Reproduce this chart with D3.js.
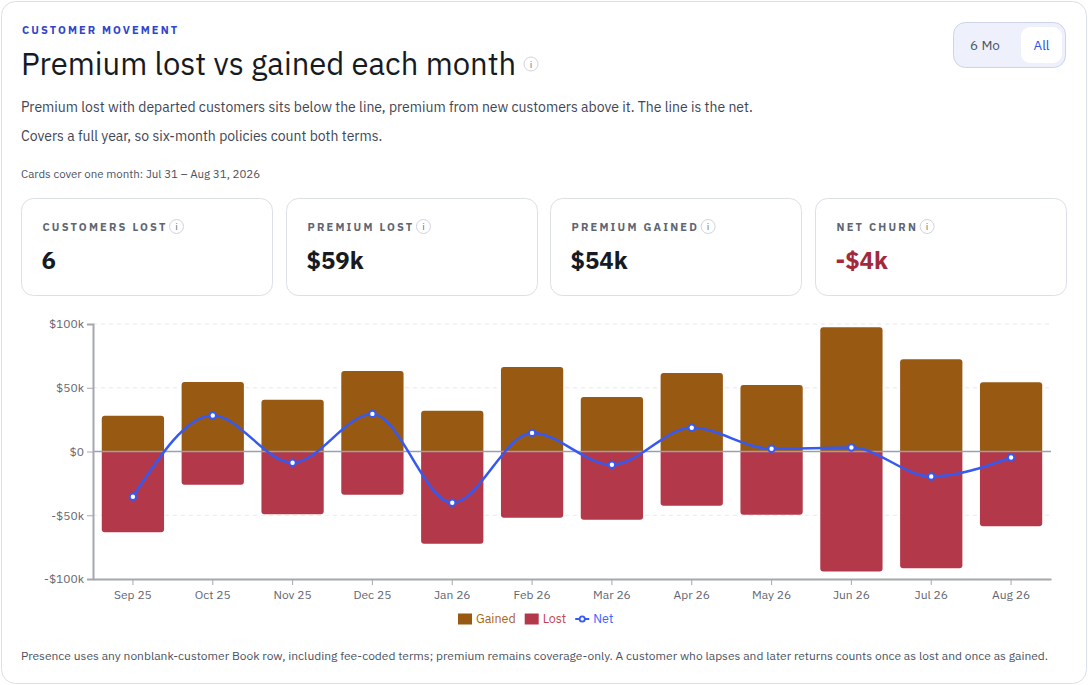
<!DOCTYPE html>
<html>
<head>
<meta charset="utf-8">
<script src="https://cdn.jsdelivr.net/npm/d3@7"></script>
<style>
  html, body { margin: 0; padding: 0; background: #ffffff; }
  body { width: 1088px; height: 685px; overflow: hidden; font-family: "IBM Plex Sans", "Noto Sans", sans-serif; }
</style>
</head>
<body>
<div id="chart"></div>
<script>
// monthly values, $k
var months = ['Sep 25', 'Oct 25', 'Nov 25', 'Dec 25', 'Jan 26', 'Feb 26', 'Mar 26', 'Apr 26', 'May 26', 'Jun 26', 'Jul 26', 'Aug 26'];
var gained = [28, 54.6, 40.5, 63.2, 31.9, 66.3, 42.8, 61.6, 52.2, 97.4, 72.4, 54.3];
var lost = [63.4, 26, 49.3, 33.9, 72.3, 51.9, 53.5, 42.5, 49.6, 94.2, 91.6, 58.6];
var net = [-35.5, 28.2, -8.8, 29.5, -40.2, 14.6, -10.4, 18.6, 2.1, 3.1, -19.6, -4.7];
var yTicks = [100, 50, 0, -50, -100];
var yTickLabels = ['$100k', '$50k', '$0', '-$50k', '-$100k'];

var cards = [
	{label: 'CUSTOMERS LOST', value: '6'},
	{label: 'PREMIUM LOST', value: '$59k'},
	{label: 'PREMIUM GAINED', value: '$54k'},
	{label: 'NET CHURN', value: '-$4k'}
];
var legendItems = ['Gained', 'Lost', 'Net'];

var W = 1088, H = 685;
var font = '"IBM Plex Sans", "Noto Sans", sans-serif';
var cGained = '#985913', cLost = '#b3394a', cNet = '#3559f2';

var svg = d3.select('#chart').append('svg')
	.attr('width', W)
	.attr('height', H)
	.style('font-family', font);

// outer panel
svg.append('rect')
	.attr('x', 1.5).attr('y', 1.5)
	.attr('width', W - 3).attr('height', H - 3)
	.attr('rx', 14)
	.attr('fill', '#fff')
	.attr('stroke', '#dcdfe8');

function infoIcon(g, cx, cy, r) {
	g.append('circle').attr('cx', cx).attr('cy', cy).attr('r', r)
		.attr('fill', '#fff').attr('stroke', '#cfd3dc');
	g.append('text').attr('x', cx).attr('y', cy + r * 0.5)
		.attr('text-anchor', 'middle')
		.attr('font-size', r * 1.45)
		.attr('fill', '#6b7280')
		.text('i');
}

// header
svg.append('text').attr('x', 22).attr('y', 34)
	.attr('font-size', 11).attr('font-weight', 700)
	.attr('letter-spacing', 2.1)
	.attr('fill', '#2f45c9')
	.text('CUSTOMER MOVEMENT');

svg.append('text').attr('x', 21).attr('y', 75)
	.attr('font-size', 31).attr('fill', '#161a23')
	.text('Premium lost vs gained each month');
infoIcon(svg, 531, 64, 7);

svg.append('text').attr('x', 21).attr('y', 112)
	.attr('font-size', 14).attr('fill', '#3f4654')
	.text('Premium lost with departed customers sits below the line, premium from new customers above it. The line is the net.');
svg.append('text').attr('x', 21).attr('y', 141)
	.attr('font-size', 14).attr('fill', '#3f4654')
	.text('Covers a full year, so six-month policies count both terms.');
svg.append('text').attr('x', 21).attr('y', 178)
	.attr('font-size', 11.5).attr('fill', '#4b5261')
	.text('Cards cover one month: Jul 31 \u2013 Aug 31, 2026');

// toggle
var tog = svg.append('g');
tog.append('rect').attr('x', 953.5).attr('y', 22.5).attr('width', 112).attr('height', 45)
	.attr('rx', 12).attr('fill', '#eef1fb').attr('stroke', '#cdd3e8');
tog.append('rect').attr('x', 1021).attr('y', 27).attr('width', 41).attr('height', 36)
	.attr('rx', 9).attr('fill', '#fff');
tog.append('text').attr('x', 985).attr('y', 50).attr('text-anchor', 'middle')
	.attr('font-size', 13.5).attr('fill', '#4b5261').text('6 Mo');
tog.append('text').attr('x', 1041.5).attr('y', 50).attr('text-anchor', 'middle')
	.attr('font-size', 13.5).attr('fill', '#2e50e8').text('All');

// cards
var cardX = [21.5, 286.5, 550.5, 815.5];
var cardG = svg.selectAll('g.card')
	.data(cards)
	.enter()
	.append('g')
	.attr('class', 'card')
	.attr('transform', function(d, i) { return 'translate(' + cardX[i] + ',198.5)'; });

cardG.append('rect')
	.attr('width', 251).attr('height', 97)
	.attr('rx', 12)
	.attr('fill', '#fff').attr('stroke', '#dcdfe6');

cardG.append('text')
	.attr('class', 'clabel')
	.attr('x', 21).attr('y', 32)
	.attr('font-size', 11).attr('font-weight', 700)
	.attr('letter-spacing', 2.2)
	.attr('fill', '#5f6673')
	.text(function(d) { return d.label; });

cardG.each(function(d) {
	var g = d3.select(this);
	var tw = g.select('text.clabel').node().getComputedTextLength();
	infoIcon(g, 21 + tw + 9, 28, 7);
});

cardG.append('text')
	.attr('x', 20).attr('y', 70)
	.attr('font-size', 24).attr('font-weight', 700)
	.attr('fill', function(d) { return d.value.charAt(0) === '-' ? '#a3293d' : '#161a23'; })
	.text(function(d) { return d.value; });

// chart area
var plotL = 93, plotR = 1051, plotT = 324, plotB = 579;

var x = d3.scaleBand()
	.domain(months)
	.range([plotL, plotR])
	.paddingInner(0.22)
	.paddingOuter(0.11);

var y = d3.scaleLinear()
	.domain([-100, 100])
	.range([plotB, plotT]);

// grid
svg.append('g').selectAll('line')
	.data(yTicks.filter(function(t) { return t !== 0 && t !== -100; }))
	.enter()
	.append('line')
	.attr('x1', plotL).attr('x2', plotR)
	.attr('y1', function(d) { return y(d); })
	.attr('y2', function(d) { return y(d); })
	.attr('stroke', '#e6e8f3')
	.attr('stroke-dasharray', '4,4');

function barPath(x0, w, y0, y1, r) {
	// rounded at y1 end only
	var dir = y1 < y0 ? 1 : -1;
	var h = Math.abs(y1 - y0);
	r = Math.min(r, h, w / 2);
	return 'M' + x0 + ',' + y0 +
		'L' + x0 + ',' + (y1 + dir * r) +
		'Q' + x0 + ',' + y1 + ' ' + (x0 + r) + ',' + y1 +
		'L' + (x0 + w - r) + ',' + y1 +
		'Q' + (x0 + w) + ',' + y1 + ' ' + (x0 + w) + ',' + (y1 + dir * r) +
		'L' + (x0 + w) + ',' + y0 + 'Z';
}

svg.append('g').selectAll('path')
	.data(gained)
	.enter()
	.append('path')
	.attr('d', function(d, i) { return barPath(x(months[i]), x.bandwidth(), y(0), y(d), 3); })
	.attr('fill', cGained);

svg.append('g').selectAll('path')
	.data(lost)
	.enter()
	.append('path')
	.attr('d', function(d, i) { return barPath(x(months[i]), x.bandwidth(), y(0), y(-d), 3); })
	.attr('fill', cLost);

// zero line
svg.append('line')
	.attr('x1', plotL).attr('x2', plotR)
	.attr('y1', y(0)).attr('y2', y(0))
	.attr('stroke', '#9ca0aa').attr('stroke-width', 1.5);

// axes
var yAxis = svg.append('g')
	.attr('transform', 'translate(' + plotL + ',0)')
	.call(d3.axisLeft(y).tickValues(yTicks).tickSize(6).tickPadding(3)
		.tickFormat(function(d, i) { return yTickLabels[i]; }));

var xAxis = svg.append('g')
	.attr('transform', 'translate(0,' + plotB + ')')
	.call(d3.axisBottom(x).tickSize(6).tickPadding(5).tickSizeOuter(0));

[yAxis, xAxis].forEach(function(a) {
	a.select('.domain').attr('stroke', '#a6a8ae').attr('stroke-width', 2);
	a.selectAll('.tick line').attr('stroke', '#a6a8ae');
	a.selectAll('.tick text')
		.attr('fill', '#5f6673')
		.style('font-family', font)
		.style('font-size', '12px');
});

// net line
var line = d3.line()
	.x(function(d, i) { return x(months[i]) + x.bandwidth() / 2; })
	.y(function(d) { return y(d); })
	.curve(d3.curveMonotoneX);

svg.append('path')
	.datum(net)
	.attr('d', line)
	.attr('fill', 'none')
	.attr('stroke', cNet)
	.attr('stroke-width', 2.5);

svg.append('g').selectAll('circle')
	.data(net)
	.enter()
	.append('circle')
	.attr('cx', function(d, i) { return x(months[i]) + x.bandwidth() / 2; })
	.attr('cy', function(d) { return y(d); })
	.attr('r', 3.2)
	.attr('fill', '#fff')
	.attr('stroke', cNet)
	.attr('stroke-width', 2);

// legend
var legend = svg.append('g').attr('transform', 'translate(458,619)');
var lx = 0;
legendItems.forEach(function(name, i) {
	var col = [cGained, cLost, cNet][i];
	var g = legend.append('g').attr('transform', 'translate(' + lx + ',0)');
	if (i < 2) {
		g.append('rect').attr('x', 0).attr('y', -5.5).attr('width', 14).attr('height', 11).attr('fill', col);
	} else {
		g.append('line').attr('x1', 0).attr('x2', 14).attr('y1', 0).attr('y2', 0)
			.attr('stroke', col).attr('stroke-width', 2);
		g.append('circle').attr('cx', 7).attr('cy', 0).attr('r', 2.6)
			.attr('fill', '#fff').attr('stroke', col).attr('stroke-width', 1.8);
	}
	var t = g.append('text').attr('x', 18).attr('y', 4)
		.attr('font-size', 12.5)
		.attr('fill', d3.color(col).brighter(0.3))
		.text(name);
	lx += 18 + t.node().getComputedTextLength() + 9;
});

// footnote
svg.append('text').attr('x', 21).attr('y', 660)
	.attr('font-size', 12).attr('fill', '#4b5261')
	.text('Presence uses any nonblank-customer Book row, including fee-coded terms; premium remains coverage-only. A customer who lapses and later returns counts once as lost and once as gained.');
</script>
</body>
</html>
